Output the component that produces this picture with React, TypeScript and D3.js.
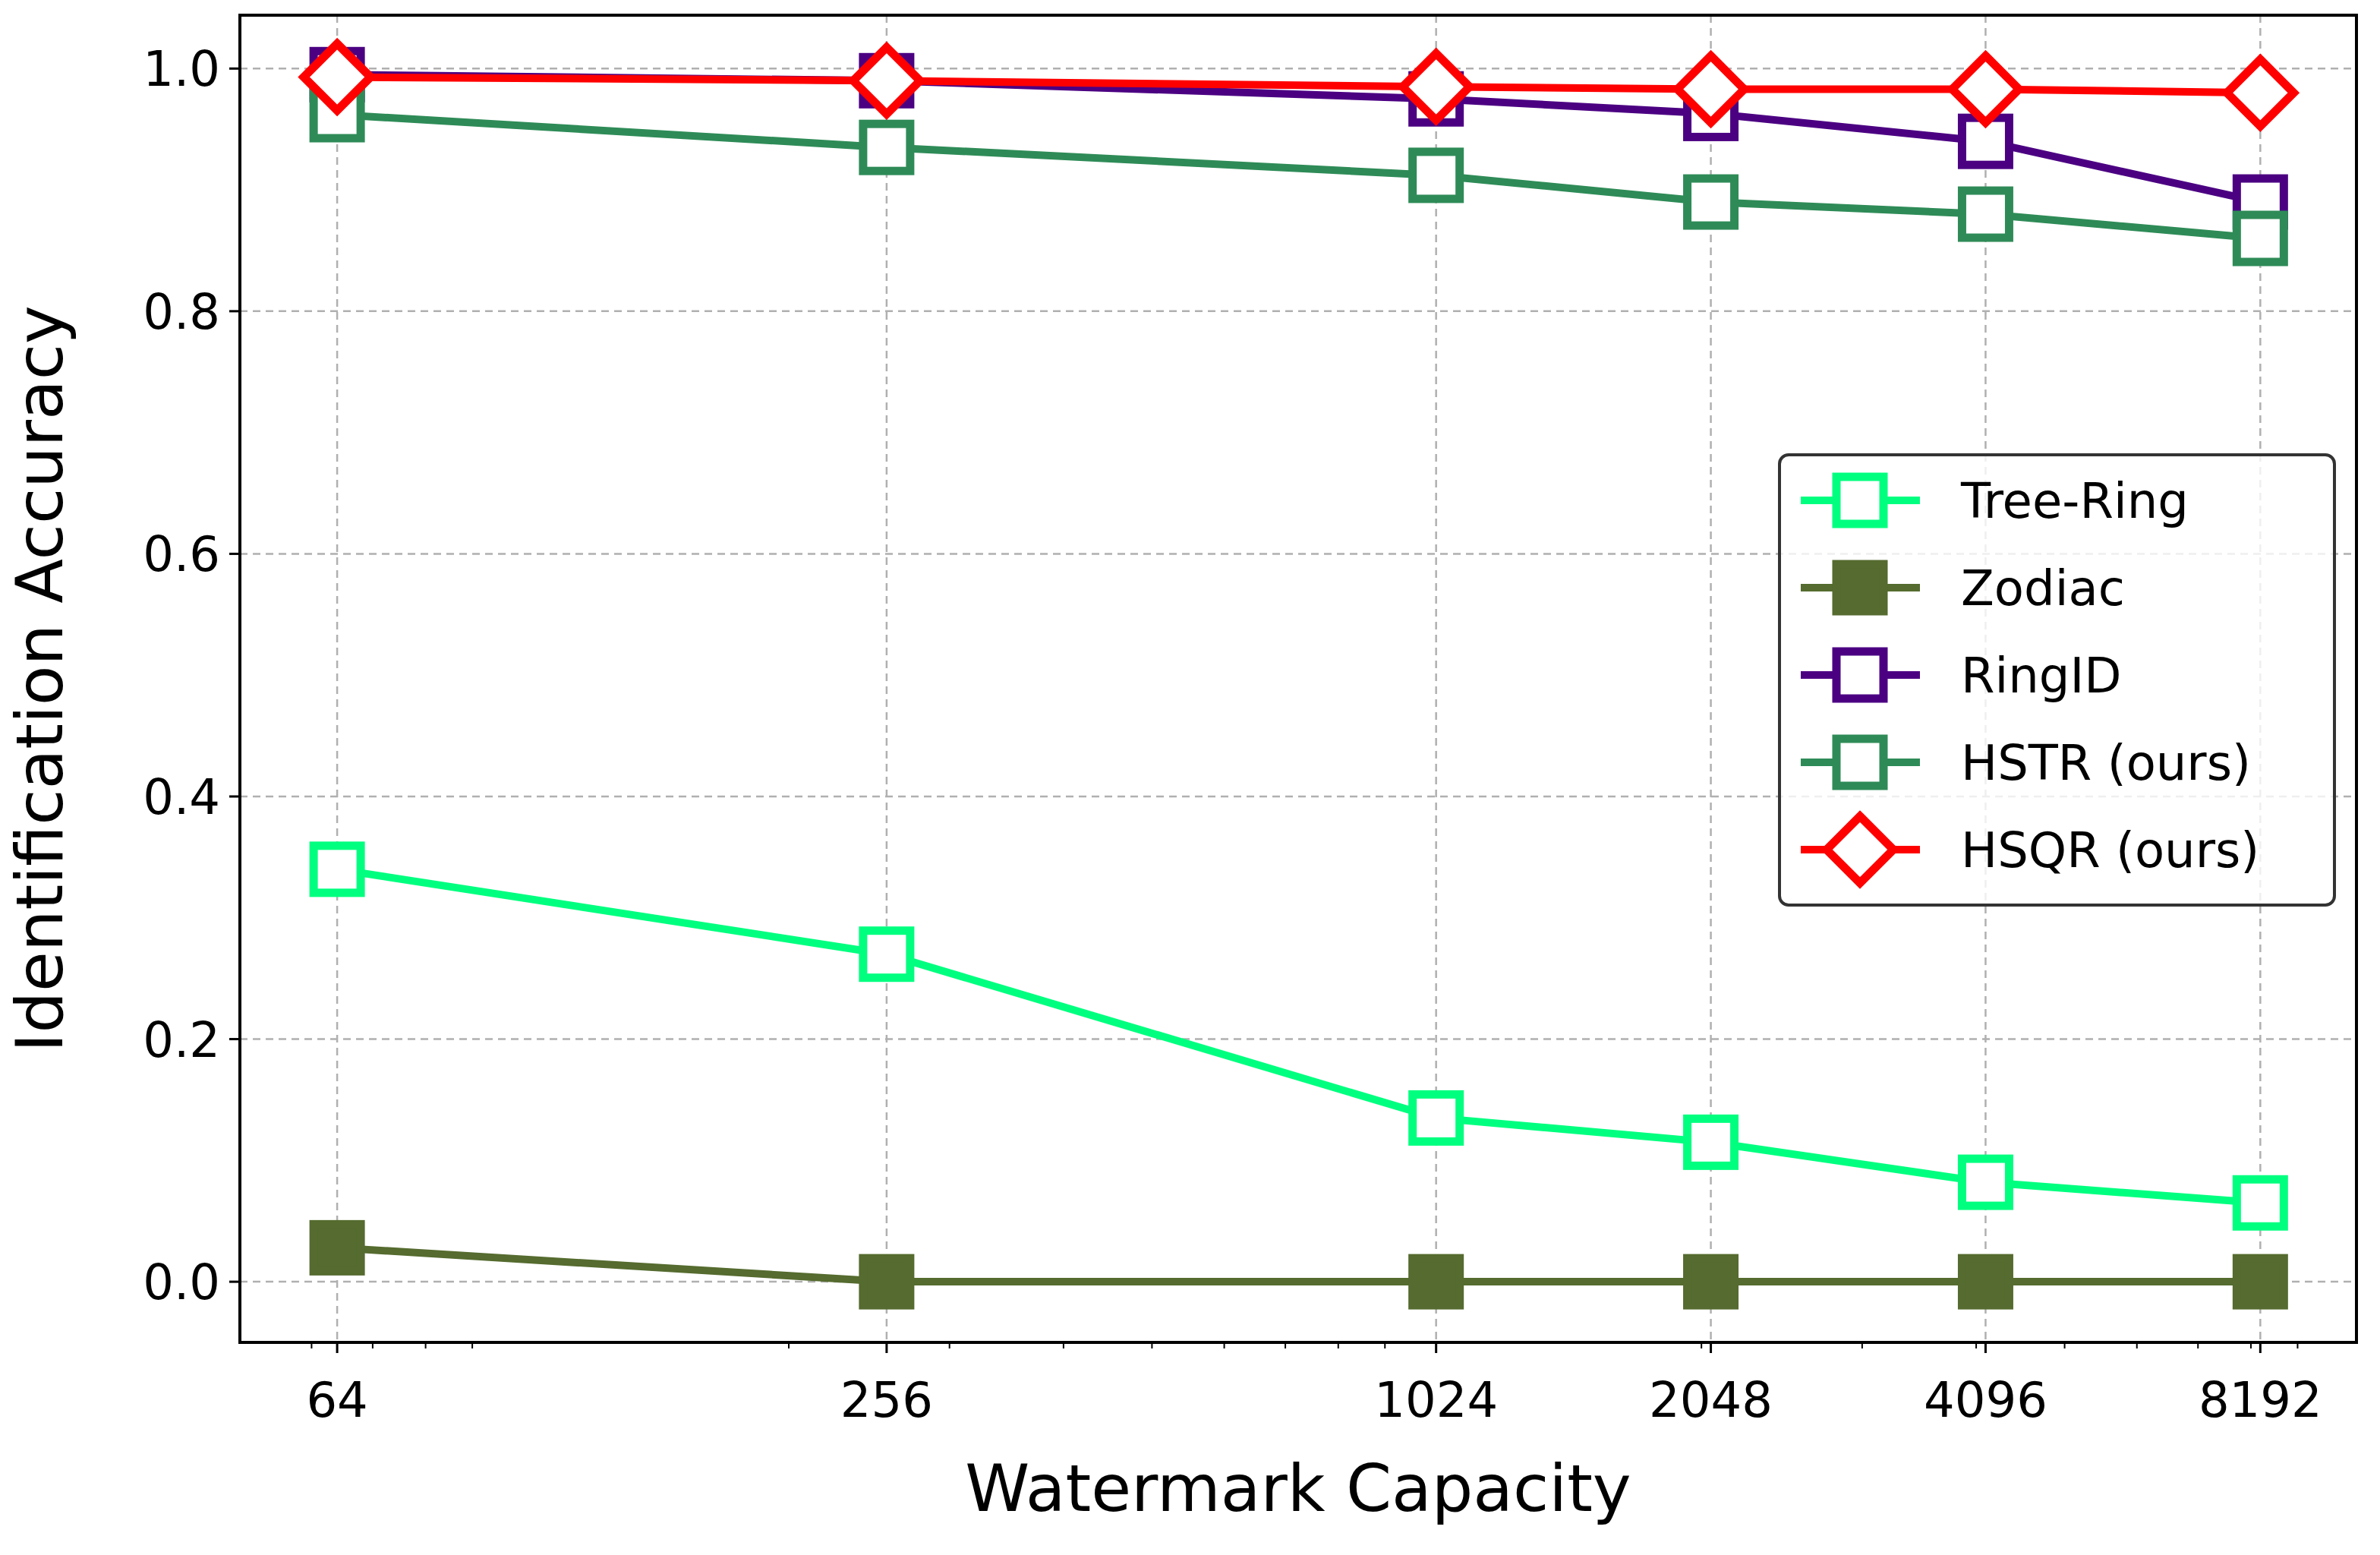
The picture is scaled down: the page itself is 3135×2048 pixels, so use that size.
import React from 'react';
import * as d3 from 'd3';

const capacities = [64, 256, 1024, 2048, 4096, 8192];
const treeRing = [0.34, 0.27, 0.135, 0.115, 0.082, 0.065];
const zodiac = [0.028, 0, 0, 0, 0, 0];
const ringId = [0.995, 0.99, 0.975, 0.963, 0.94, 0.89];
const hstr = [0.962, 0.935, 0.912, 0.89, 0.88, 0.86];
const hsqr = [0.993, 0.99, 0.985, 0.983, 0.983, 0.98];
const yTicks = [0, 0.2, 0.4, 0.6, 0.8, 1.0];
const minorTicks = [60, 70, 80, 90, 200, 300, 400, 500, 600, 700, 800, 900, 2000, 3000, 4000, 5000, 6000, 7000, 8000, 9000];

const series = [
  { name: 'Tree-Ring', values: treeRing, color: '#00ff7f', marker: 'square', filled: false },
  { name: 'Zodiac', values: zodiac, color: '#556b2f', marker: 'square', filled: true },
  { name: 'RingID', values: ringId, color: '#4b0082', marker: 'square', filled: false },
  { name: 'HSTR (ours)', values: hstr, color: '#2e8b57', marker: 'square', filled: false },
  { name: 'HSQR (ours)', values: hsqr, color: '#ff0000', marker: 'diamond', filled: false },
];

const W = 3135, H = 2048;
const L = 316, R = 3104, T = 20, B = 1768;
const font = 'DejaVu Sans, sans-serif';

const Marker = ({ x, y, s }: { x: number; y: number; s: typeof series[0] }) => {
  if (s.marker === 'diamond') {
    const r = 44;
    return <path d={`M${x},${y - r}L${x + r},${y}L${x},${y + r}L${x - r},${y}Z`}
      fill="white" stroke={s.color} strokeWidth={11} />;
  }
  const h = 31;
  return <rect x={x - h} y={y - h} width={2 * h} height={2 * h}
    fill={s.filled ? s.color : 'white'} stroke={s.color} strokeWidth={11} />;
};

export default function App() {
  const x = d3.scaleLog().base(2).domain([2 ** 5.646, 2 ** 13.35]).range([L, R]);
  const y = d3.scaleLinear().domain([-0.05, 1.044]).range([B, T]);
  const line = d3.line<number>().x((_, i) => x(capacities[i])).y(d => y(d));

  return (
    <svg width={W} height={H} style={{ display: 'block', position: 'absolute', left: 0, top: 0 }}>
      <rect width={W} height={H} fill="white" />
      {capacities.map(c => (
        <line key={'gx' + c} x1={x(c)} x2={x(c)} y1={T} y2={B} stroke="#b0b0b0" strokeWidth={2.5} strokeDasharray="10,7" />
      ))}
      {yTicks.map(t => (
        <line key={'gy' + t} x1={L} x2={R} y1={y(t)} y2={y(t)} stroke="#b0b0b0" strokeWidth={2.5} strokeDasharray="10,7" />
      ))}
      {series.map(s => (
        <g key={s.name}>
          <path d={line(s.values) || ''} fill="none" stroke={s.color} strokeWidth={10} />
          {s.values.map((v, i) => <Marker key={i} x={x(capacities[i])} y={y(v)} s={s} />)}
        </g>
      ))}
      <rect x={L} y={T} width={R - L} height={B - T} fill="none" stroke="black" strokeWidth={4} />
      {capacities.map(c => (
        <g key={'tx' + c}>
          <line x1={x(c)} x2={x(c)} y1={B} y2={B + 14} stroke="black" strokeWidth={3} />
          <text x={x(c)} y={1866} fontSize={64} fontFamily={font} textAnchor="middle">{c}</text>
        </g>
      ))}
      {minorTicks.map(c => (
        <line key={'m' + c} x1={x(c)} x2={x(c)} y1={B} y2={B + 8} stroke="black" strokeWidth={2} />
      ))}
      {yTicks.map(t => (
        <g key={'ty' + t}>
          <line x1={L - 14} x2={L} y1={y(t)} y2={y(t)} stroke="black" strokeWidth={3} />
          <text x={290} y={y(t) + 23} fontSize={64} fontFamily={font} textAnchor="end">{t.toFixed(1)}</text>
        </g>
      ))}
      <text x={(L + R) / 2} y={1990} fontSize={86} fontFamily={font} textAnchor="middle">Watermark Capacity</text>
      <text transform={`translate(82,${(T + B) / 2}) rotate(-90)`} fontSize={86} fontFamily={font} textAnchor="middle">Identification Accuracy</text>
      <g>
        <rect x={2344} y={599} width={731} height={593} rx={12} fill="white" fillOpacity={0.8} stroke="#333" strokeWidth={4} />
        {series.map((s, i) => {
          const ly = 659 + i * 115;
          return (
            <g key={'lg' + s.name}>
              <line x1={2372} x2={2529} y1={ly} y2={ly} stroke={s.color} strokeWidth={10} />
              <Marker x={2450} y={ly} s={s} />
              <text x={2583} y={ly + 23} fontSize={64} fontFamily={font}>{s.name}</text>
            </g>
          );
        })}
      </g>
    </svg>
  );
}
